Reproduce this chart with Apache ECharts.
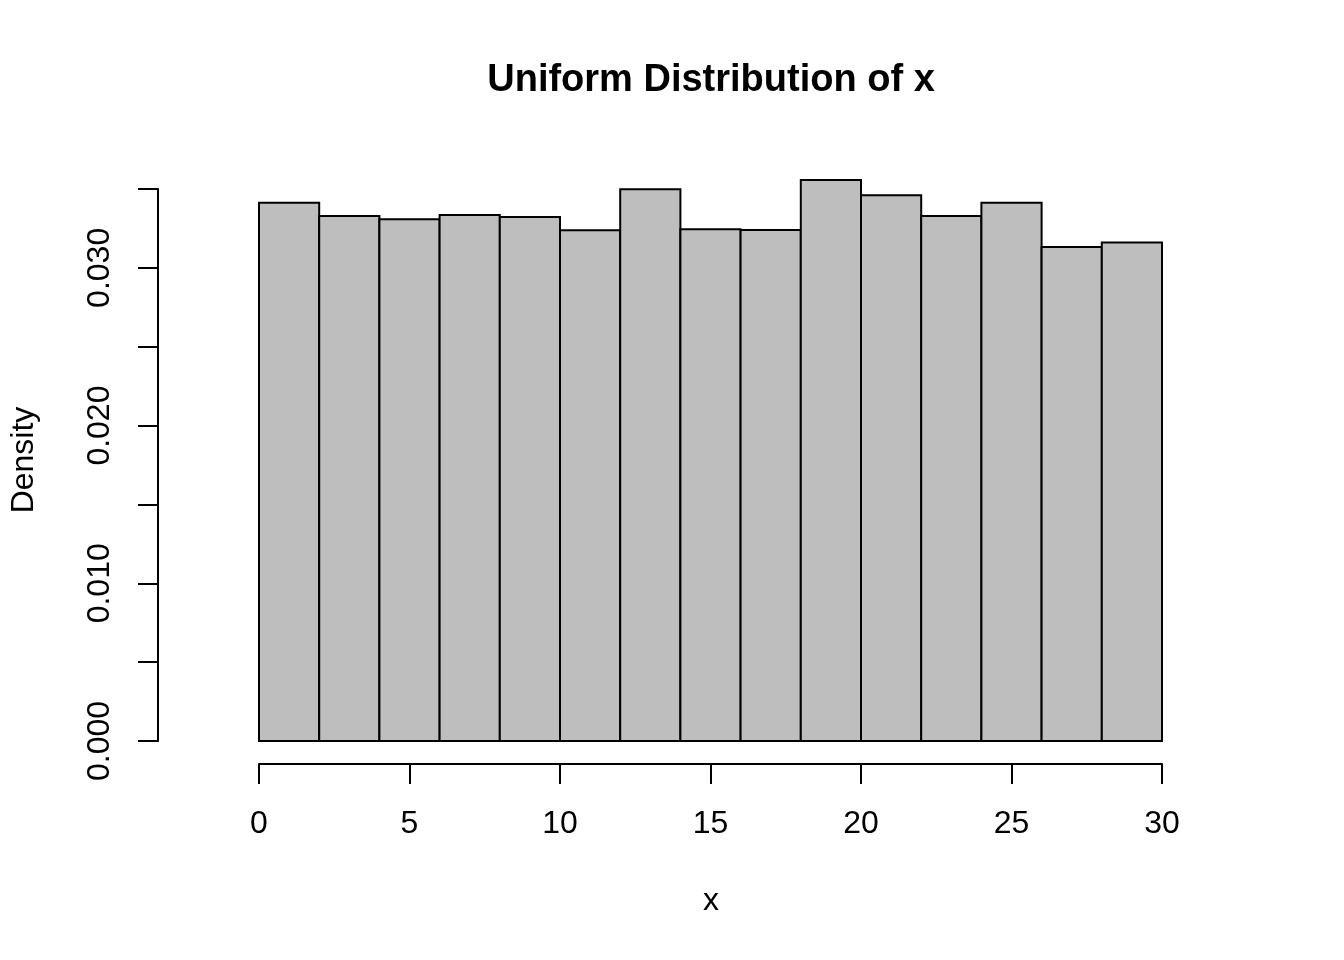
<!DOCTYPE html>
<html>
<head>
<meta charset="utf-8">
<script src="https://cdn.jsdelivr.net/npm/echarts@6/dist/echarts.min.js"></script>
<style>html,body{margin:0;padding:0;background:#fff}#c{width:1344px;height:960px}</style>
</head>
<body>
<div id="c"></div>
<script>
var binStarts = [0, 2, 4, 6, 8, 10, 12, 14, 16, 18, 20, 22, 24, 26, 28];
var binEnds = [2, 4, 6, 8, 10, 12, 14, 16, 18, 20, 22, 24, 26, 28, 30];
var densities = [0.03413, 0.03329, 0.03308, 0.03335, 0.03323, 0.03238, 0.03498, 0.03245, 0.03240, 0.03557, 0.03460, 0.03329, 0.03413, 0.03132, 0.03160];
var xTicks = [0, 5, 10, 15, 20, 25, 30];
var yTicks = [0.000, 0.005, 0.010, 0.015, 0.020, 0.025, 0.030, 0.035];
var yLabeled = ['0.000', '0.010', '0.020', '0.030'];
var titleText = 'Uniform Distribution of x';
var xName = 'x';
var yName = 'Density';

var FONT = 'Liberation Sans, Arial, Helvetica, sans-serif';
var data = binStarts.map(function (s, i) { return [s, binEnds[i], densities[i]]; });

var chart = echarts.init(document.getElementById('c'), null, {renderer: 'canvas'});
chart.setOption({
  animation: false,
  backgroundColor: '#ffffff',
  grid: {left: 259, right: 182, top: 189, bottom: 219, containLabel: false},
  xAxis: {
    type: 'value', min: xTicks[0], max: xTicks[xTicks.length - 1], interval: 5,
    offset: 23,
    axisLine: {show: true, onZero: false, lineStyle: {color: '#000', width: 2}},
    axisTick: {show: true, length: 20, lineStyle: {color: '#000', width: 2}},
    axisLabel: {show: true, margin: 44, color: '#000', fontSize: 32, fontFamily: FONT, lineHeight: 32,
      showMinLabel: true, showMaxLabel: true},
    splitLine: {show: false}
  },
  yAxis: {
    type: 'value', min: yTicks[0], max: yTicks[yTicks.length - 1], interval: 0.005,
    offset: 101,
    axisLine: {show: true, onZero: false, lineStyle: {color: '#000', width: 2}},
    axisTick: {show: true, length: 20, lineStyle: {color: '#000', width: 2}},
    axisLabel: {show: true, rotate: 90, margin: 42, color: '#000', fontSize: 32, fontFamily: FONT, lineHeight: 32,
      showMinLabel: true, showMaxLabel: true,
      formatter: function (v) {
        var s = v.toFixed(3);
        return yLabeled.indexOf(s) >= 0 ? s : '';
      }},
    splitLine: {show: false}
  },
  series: [{
    type: 'custom',
    data: data,
    renderItem: function (params, api) {
      var p0 = api.coord([api.value(0), 0]);
      var p1 = api.coord([api.value(1), api.value(2)]);
      return {
        type: 'rect',
        shape: {x: p0[0], y: p1[1], width: p1[0] - p0[0], height: p0[1] - p1[1]},
        style: {fill: '#BEBEBE', stroke: '#000', lineWidth: 2}
      };
    }
  }],
  graphic: [
    {type: 'text', x: 711, y: 81, style: {text: titleText, font: 'bold 38px ' + FONT, fill: '#000', align: 'center', verticalAlign: 'middle'}},
    {type: 'text', x: 711, y: 901, style: {text: xName, font: '32px ' + FONT, fill: '#000', align: 'center', verticalAlign: 'middle'}},
    {type: 'text', x: 24, y: 460, rotation: Math.PI / 2, style: {text: yName, font: '32px ' + FONT, fill: '#000', align: 'center', verticalAlign: 'middle'}}
  ]
});
</script>
</body>
</html>
